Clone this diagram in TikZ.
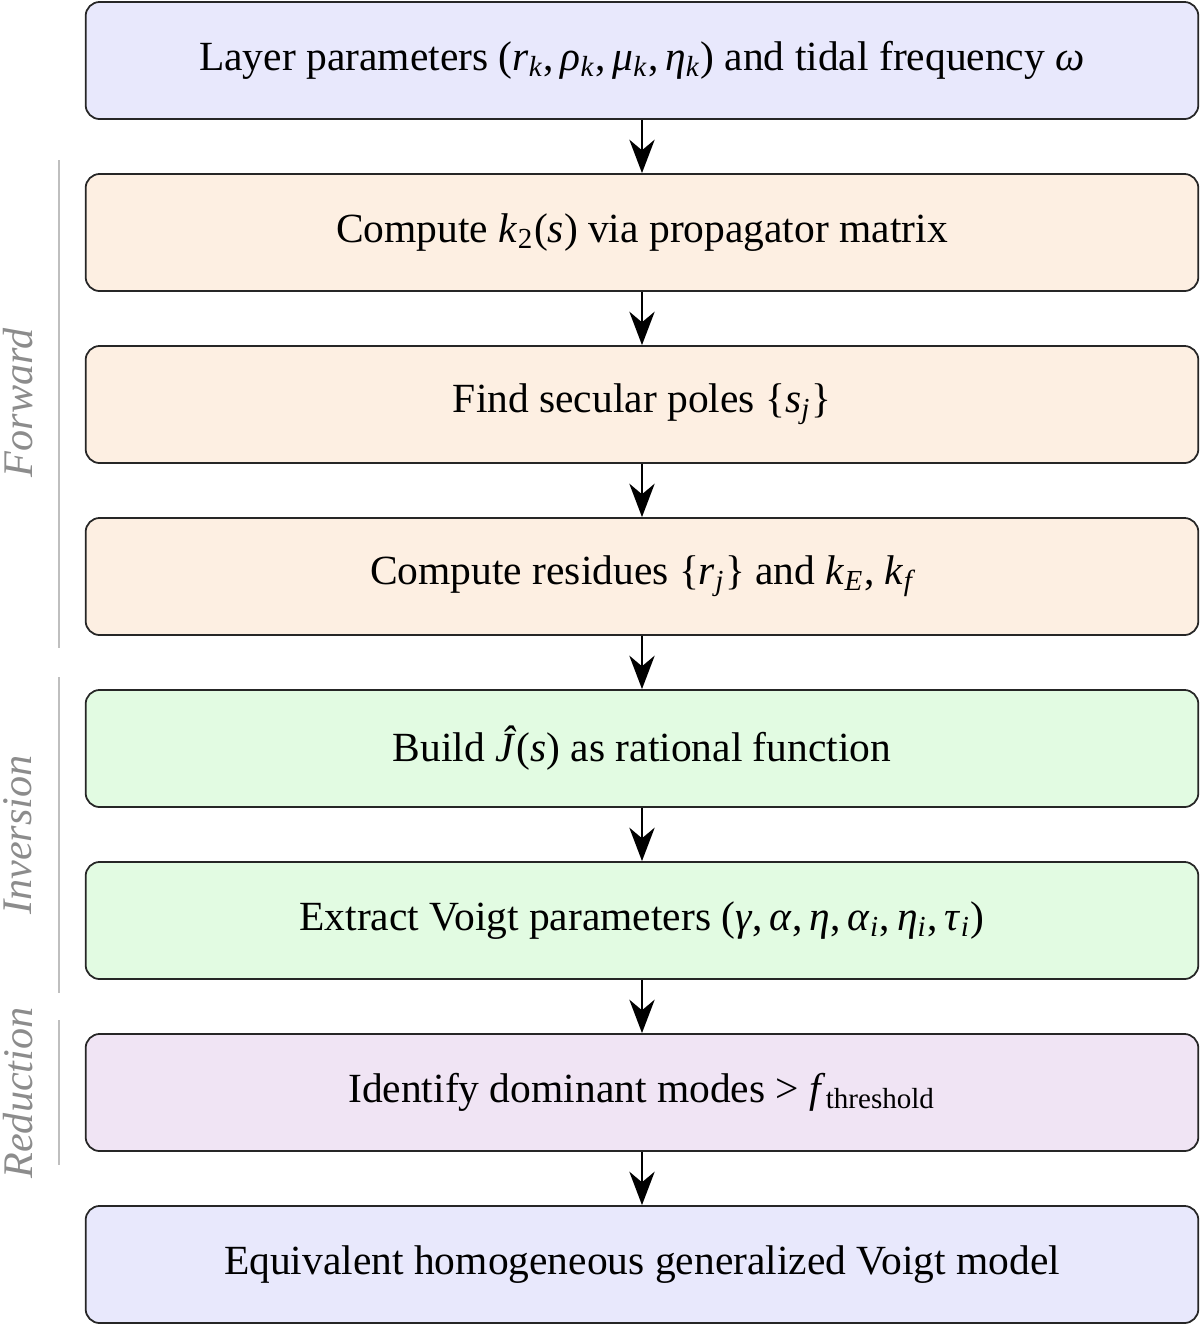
\documentclass[tikz,border=0pt]{standalone}
\usepackage{fontspec}
\setmainfont{Liberation Serif}
\usetikzlibrary{arrows.meta}
\newcommand\mi[1]{\textit{#1}}
\newcommand\sbi[1]{\textsubscript{\itshape #1}}
\newcommand\cm{,\thinspace}
\definecolor{cinput}{RGB}{232,232,252}
\definecolor{cfwd}{RGB}{253,239,226}
\definecolor{cinv}{RGB}{226,251,226}
\definecolor{cred}{RGB}{240,228,244}
\begin{document}
\begin{tikzpicture}[x=0.01cm,y=-0.01cm,
  stepbox/.style={draw=black!85, line width=0.5pt, rounded corners=0.14cm,
    minimum width=11.12cm, minimum height=1.17cm, inner sep=0pt,
    font=\fontsize{11.8}{14}\selectfont, anchor=center},
  flowarrow/.style={-{Stealth[length=9.5pt,width=7.2pt,inset=3pt]}, line width=0.6pt, black},
  sidelabel/.style={rotate=90, font=\fontsize{12}{14}\selectfont\itshape, text=black!45, anchor=center, inner sep=0pt},
  sideline/.style={draw=black!25, line width=0.85pt}]
\useasboundingbox (0,0) rectangle (1200,1326);
\node[stepbox, fill=cinput] (n1) at (642,60.5) {Layer parameters (\mi{r}\sbi{k}\cm\mi{ρ}\sbi{k}\cm\mi{μ}\sbi{k}\cm\mi{η}\sbi{k}) and tidal frequency \mi{ω}};
\node[stepbox, fill=cfwd] (n2) at (642,232.5) {Compute \mi{k}\textsubscript{2}(\mi{s}) via propagator matrix};
\node[stepbox, fill=cfwd] (n3) at (642,404.5) {Find secular poles \{\mi{s}\sbi{j}\}};
\node[stepbox, fill=cfwd] (n4) at (642,576.5) {Compute residues \{\mi{r}\sbi{j}\} and \mi{k}\sbi{E}, \mi{k}\sbi{f}};
\node[stepbox, fill=cinv] (n5) at (642,748.5) {Build \mi{Ĵ}(\mi{s}) as rational function};
\node[stepbox, fill=cinv] (n6) at (642,920.5) {Extract Voigt parameters (\mi{γ}\cm\mi{α}\cm\mi{η}\cm\mi{α}\sbi{i}\cm\mi{η}\sbi{i}\cm\mi{τ}\sbi{i})};
\node[stepbox, fill=cred] (n7) at (642,1092.5) {Identify dominant modes \textgreater\ \mi{f}\textsubscript{threshold}};
\node[stepbox, fill=cinput] (n8) at (642,1264.5) {Equivalent homogeneous generalized Voigt model};
\foreach \a/\b in {n1/n2,n2/n3,n3/n4,n4/n5,n5/n6,n6/n7,n7/n8}
  \draw[flowarrow] (\a.south) -- (\b.north);
\coordinate (f1) at (59,160); \coordinate (f2) at (59,648);
\coordinate (i1) at (59,677); \coordinate (i2) at (59,993);
\coordinate (r1) at (59,1020); \coordinate (r2) at (59,1165);
\draw[sideline] (f1) -- (f2);
\draw[sideline] (i1) -- (i2);
\draw[sideline] (r1) -- (r2);
\node[sidelabel] (lf) at (18,403) {Forward};
\node[sidelabel] (li) at (18,835) {Inversion};
\node[sidelabel] (lr) at (18,1093) {Reduction};
\end{tikzpicture}
\end{document}
